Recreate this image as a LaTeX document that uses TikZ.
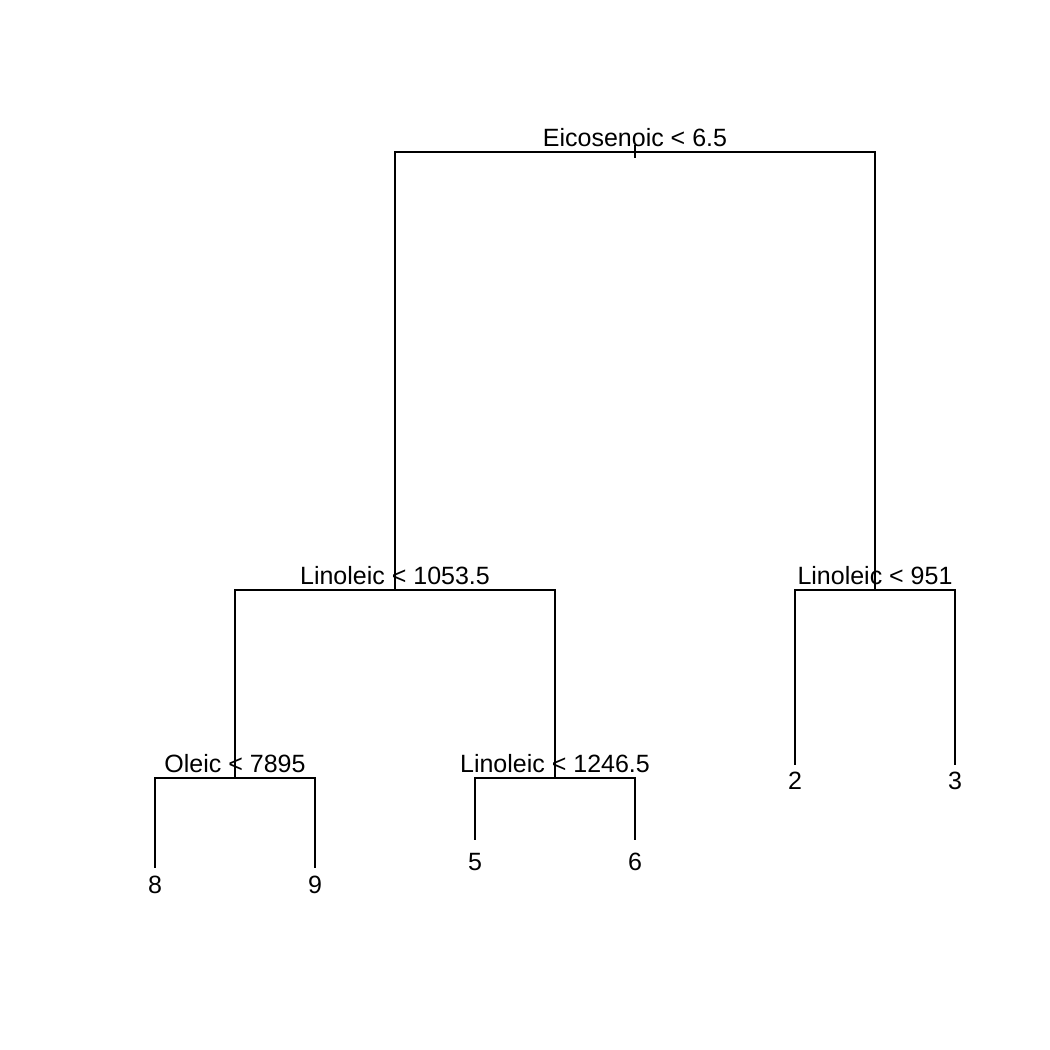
\documentclass[tikz,border=0pt]{standalone}
\usepackage{fontspec}
\setmainfont{Liberation Sans}
\begin{document}
\begin{tikzpicture}[x=1pt,y=-1pt,line width=1.5pt,
		every node/.style={inner sep=0pt,anchor=base,font=\fontsize{25}{29}\selectfont}]
				\useasboundingbox (0,0) rectangle (1050,1050);
				
				% split points
				\coordinate (root) at (635,152);
				\coordinate (lin1) at (395,590);
				\coordinate (lin2) at (875,590);
				\coordinate (oleic) at (235,778);
				\coordinate (lin3) at (555,778);
				% leaf ends
				\coordinate (l8) at (155,868);
				\coordinate (l9) at (315,868);
				\coordinate (l5) at (475,840);
				\coordinate (l6) at (635,840);
				\coordinate (l2) at (795,765);
				\coordinate (l3) at (955,765);
				
				\draw (635,145) -- (635,158);
				\draw (root) -| (lin1);
				\draw (root) -| (lin2);
				\draw (lin1) -| (oleic);
				\draw (lin1) -| (lin3);
				\draw (lin2) -| (l2);
				\draw (lin2) -| (l3);
				\draw (oleic) -| (l8);
				\draw (oleic) -| (l9);
				\draw (lin3) -| (l5);
				\draw (lin3) -| (l6);
				
				\node (Eico) at (635,146) {Eicosenoic < 6.5};
				\node (Lino1) at (395,584) {Linoleic < 1053.5};
				\node (Lino2) at (875,584) {Linoleic < 951};
				\node (Ole) at (235,772) {Oleic < 7895};
				\node (Lino3) at (555,772) {Linoleic < 1246.5};
				\begin{scope}[every node/.style={inner sep=0pt,anchor=base,font=\fontsize{25}{29}\selectfont}]
					\node (leaf8) at (155,893) {8};
					\node (leaf9) at (315,893) {9};
					\node (leaf5) at (475,870) {5};
					\node (leaf6) at (635,870) {6};
					\node (leaf2) at (795,789) {2};
					\node (leaf3) at (955,789) {3};
				\end{scope}
			\end{tikzpicture}
\end{document}
